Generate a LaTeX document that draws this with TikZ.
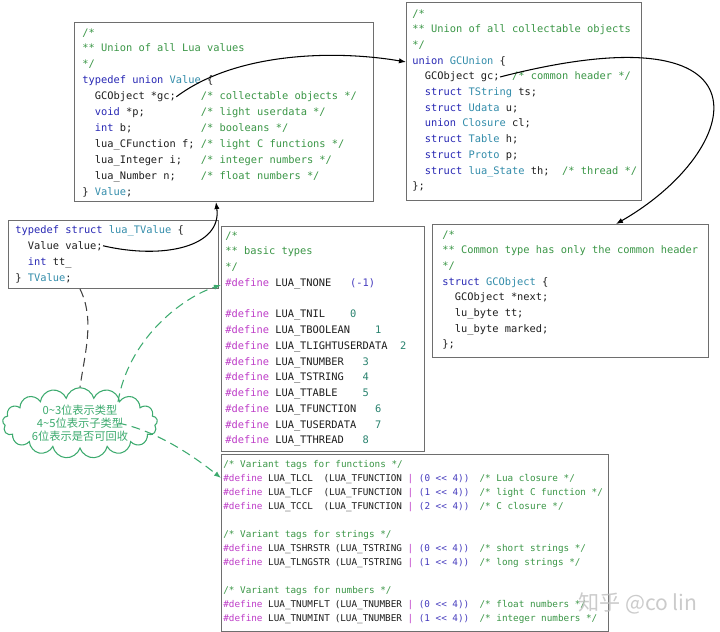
\documentclass[tikz,border=0pt]{standalone}
\usepackage{fontspec}
\newfontfamily\codefont{DejaVu Sans Mono}
\newfontfamily\cjk{Noto Sans CJK SC}
\usetikzlibrary{arrows.meta,positioning,shapes.symbols}

\definecolor{cmtgreen}{RGB}{58,150,70}
\definecolor{kwblue}{RGB}{40,40,180}
\definecolor{typeteal}{RGB}{50,140,170}
\definecolor{defpurple}{RGB}{190,60,200}
\definecolor{numteal}{RGB}{40,130,110}
\definecolor{parblue}{RGB}{70,60,190}
\definecolor{codeblack}{RGB}{30,30,30}
\definecolor{boxgray}{RGB}{110,110,110}
\definecolor{notegreen}{RGB}{60,170,110}
\definecolor{markgray}{RGB}{190,190,190}

\newcommand\cmt[1]{\textcolor{cmtgreen}{#1}}
\newcommand\kwd[1]{\textcolor{kwblue}{#1}}
\newcommand\tyn[1]{\textcolor{typeteal}{#1}}
\newcommand\mcr[1]{\textcolor{defpurple}{#1}}
\newcommand\nmb[1]{\textcolor{numteal}{#1}}
\newcommand\pnc[1]{\textcolor{parblue}{#1}}

\begin{document}
\begin{tikzpicture}[
  x=0.02cm, y=-0.02cm, >={Latex[length=4pt,width=3pt]},
  codebox/.style={draw=boxgray, line width=0.6pt, fill=white, anchor=north west, inner sep=0pt},
  codeline/.style={anchor=base west, inner sep=0pt, text=codeblack, font=\codefont\fontsize{5.9}{9}\selectfont},
  smallline/.style={codeline, font=\codefont\fontsize{5.3}{8}\selectfont},
  link/.style={->, line width=0.6pt},
  tagline/.style={dash pattern=on 5pt off 3pt, line width=0.6pt},
]
\useasboundingbox (0,0) rectangle (720,632);

% union Value
\node[codebox, minimum width=5.98cm, minimum height=3.58cm] (valbox) at (74,22) {};
\foreach \li/\co/\tx in {0/0/{\cmt{/*}}, 1/0/{\cmt{** Union of all Lua values}}, 2/0/{\cmt{*/}},
    3/0/{\kwd{typedef} \kwd{union} \tyn{Value} \{},
    4/2/{GCObject *gc;}, 4/19/{\cmt{/* collectable objects */}},
    5/2/{\kwd{void} *p;}, 5/19/{\cmt{/* light userdata */}},
    6/2/{\kwd{int} b;}, 6/19/{\cmt{/* booleans */}},
    7/2/{lua\_CFunction f;}, 7/19/{\cmt{/* light C functions */}},
    8/2/{lua\_Integer i;}, 8/19/{\cmt{/* integer numbers */}},
    9/2/{lua\_Number n;}, 9/19/{\cmt{/* float numbers */}},
    10/0/{\} \tyn{Value};}}
  \node[codeline] (val-\li-\co) at ([shift={(8+\co*6.24,14+\li*15.9)}]valbox.north west) {\tx};

% union GCUnion
\node[codebox, minimum width=4.7cm, minimum height=3.96cm] (gcubox) at (406,2) {};
\foreach \li/\co/\tx in {0/0/{\cmt{/*}}, 1/0/{\cmt{** Union of all collectable objects}}, 2/0/{\cmt{*/}},
    3/0/{\kwd{union} \tyn{GCUnion} \{},
    4/2/{GCObject gc;}, 4/16/{\cmt{/* common header */}},
    5/2/{\kwd{struct} \tyn{TString} ts;},
    6/2/{\kwd{struct} \tyn{Udata} u;},
    7/2/{\kwd{union} \tyn{Closure} cl;},
    8/2/{\kwd{struct} \tyn{Table} h;},
    9/2/{\kwd{struct} \tyn{Proto} p;},
    10/2/{\kwd{struct} \tyn{lua\_State} th;}, 10/24/{\cmt{/* thread */}},
    11/0/{\};}}
  \node[codeline] (gcu-\li-\co) at ([shift={(6+\co*6.24,15+\li*15.7)}]gcubox.north west) {\tx};

% lua_TValue
\node[codebox, minimum width=4.2cm, minimum height=1.36cm] (tvbox) at (8,220) {};
\foreach \li/\co/\tx in {0/0/{\kwd{typedef} \kwd{struct} \tyn{lua\_TValue} \{},
    1/2/{Value value;}, 2/2/{\kwd{int} tt\_}, 3/0/{\} \tyn{TValue};}}
  \node[codeline] (tv-\li-\co) at ([shift={(7+\co*6.24,13+\li*16)}]tvbox.north west) {\tx};

% basic types
\node[codebox, minimum width=4.06cm, minimum height=4.5cm] (basicbox) at (221,226) {};
\foreach \li/\co/\tx in {0/0/{\cmt{/*}}, 1/0/{\cmt{** basic types}}, 2/0/{\cmt{*/}},
    3/0/{\mcr{\#define} LUA\_TNONE}, 3/20/{\pnc{(-1)}},
    5/0/{\mcr{\#define} LUA\_TNIL}, 5/20/{\nmb{0}},
    6/0/{\mcr{\#define} LUA\_TBOOLEAN}, 6/24/{\nmb{1}},
    7/0/{\mcr{\#define} LUA\_TLIGHTUSERDATA}, 7/28/{\nmb{2}},
    8/0/{\mcr{\#define} LUA\_TNUMBER}, 8/22/{\nmb{3}},
    9/0/{\mcr{\#define} LUA\_TSTRING}, 9/22/{\nmb{4}},
    10/0/{\mcr{\#define} LUA\_TTABLE}, 10/22/{\nmb{5}},
    11/0/{\mcr{\#define} LUA\_TFUNCTION}, 11/24/{\nmb{6}},
    12/0/{\mcr{\#define} LUA\_TUSERDATA}, 12/24/{\nmb{7}},
    13/0/{\mcr{\#define} LUA\_TTHREAD}, 13/22/{\nmb{8}}}
  \node[codeline] (basic-\li-\co) at ([shift={(4+\co*6.24,13+\li*15.75)}]basicbox.north west) {\tx};

% struct GCObject
\node[codebox, minimum width=5.52cm, minimum height=2.66cm] (gcobox) at (432,224) {};
\foreach \li/\co/\tx in {0/0/{\cmt{/*}}, 1/0/{\cmt{** Common type has only the common header}}, 2/0/{\cmt{*/}},
    3/0/{\kwd{struct} \tyn{GCObject} \{},
    4/2/{GCObject *next;}, 5/2/{lu\_byte tt;}, 6/2/{lu\_byte marked;}, 7/0/{\};}}
  \node[codeline] (gco-\li-\co) at ([shift={(10+\co*6.24,14+\li*15.7)}]gcobox.north west) {\tx};

% variant tags
\node[codebox, minimum width=7.74cm, minimum height=3.54cm] (variantbox) at (221,454) {};
\foreach \li/\co/\tx in {0/0/{\cmt{/* Variant tags for functions */}},
    1/0/{\mcr{\#define} LUA\_TLCL}, 1/18/{(LUA\_TFUNCTION \mcr{|} \pnc{(0 << 4))}}, 1/46/{\cmt{/* Lua closure */}},
    2/0/{\mcr{\#define} LUA\_TLCF}, 2/18/{(LUA\_TFUNCTION \mcr{|} \pnc{(1 << 4))}}, 2/46/{\cmt{/* light C function */}},
    3/0/{\mcr{\#define} LUA\_TCCL}, 3/18/{(LUA\_TFUNCTION \mcr{|} \pnc{(2 << 4))}}, 3/46/{\cmt{/* C closure */}},
    5/0/{\cmt{/* Variant tags for strings */}},
    6/0/{\mcr{\#define} LUA\_TSHRSTR}, 6/20/{(LUA\_TSTRING \mcr{|} \pnc{(0 << 4))}}, 6/46/{\cmt{/* short strings */}},
    7/0/{\mcr{\#define} LUA\_TLNGSTR}, 7/20/{(LUA\_TSTRING \mcr{|} \pnc{(1 << 4))}}, 7/46/{\cmt{/* long strings */}},
    9/0/{\cmt{/* Variant tags for numbers */}},
    10/0/{\mcr{\#define} LUA\_TNUMFLT}, 10/20/{(LUA\_TNUMBER \mcr{|} \pnc{(0 << 4))}}, 10/46/{\cmt{/* float numbers */}},
    11/0/{\mcr{\#define} LUA\_TNUMINT}, 11/20/{(LUA\_TNUMBER \mcr{|} \pnc{(1 << 4))}}, 11/46/{\cmt{/* integer numbers */}}}
  \node[smallline] (var-\li-\co) at ([shift={(2+\co*5.57,13.5+\li*14)}]variantbox.north west) {\tx};

\node[cloud, draw=notegreen, fill=white, line width=0.6pt, cloud puffs=17, aspect=2.6,
  minimum width=3.1cm, minimum height=1.2cm, inner sep=0pt, align=center, text=notegreen,
  font=\cjk\fontsize{6.4}{7.4}\selectfont] (tipcloud) at (80,423)
  {0\textasciitilde3位表示类型\\4\textasciitilde5位表示子类型\\6位表示是否可回收};

\node[font=\cjk\fontsize{12}{12}\selectfont, text=markgray, opacity=0.8] (wmark) at (638,603) {知乎 @co lin};

\draw[link] (val-4-2.east) .. controls +(60,-45) and +(-70,-12) .. ([yshift=-1.2cm]gcubox.north west);
\draw[link] (gcu-4-2.east) .. controls (780,5) and (745,150) .. ([xshift=3.68cm]gcobox.north west);
\draw[link] (tv-1-2.east) .. controls +(60,14) and +(6,45) .. ([xshift=2.84cm]valbox.south west);
\draw[tagline, black!75] ([xshift=1.44cm]tvbox.south west) .. controls +(15,30) and +(5,-35) .. (tipcloud.north);
\draw[tagline, notegreen, ->] ([xshift=0.76cm,yshift=0.42cm]tipcloud.center) .. controls +(10,-62) and +(-40,13) .. ([yshift=-1.18cm]basicbox.north west);
\draw[tagline, notegreen, ->] ([xshift=0.76cm]tipcloud.center) .. controls +(40,8) and +(-25,-20) .. ([yshift=-0.48cm]variantbox.north west);
\end{tikzpicture}
\end{document}
